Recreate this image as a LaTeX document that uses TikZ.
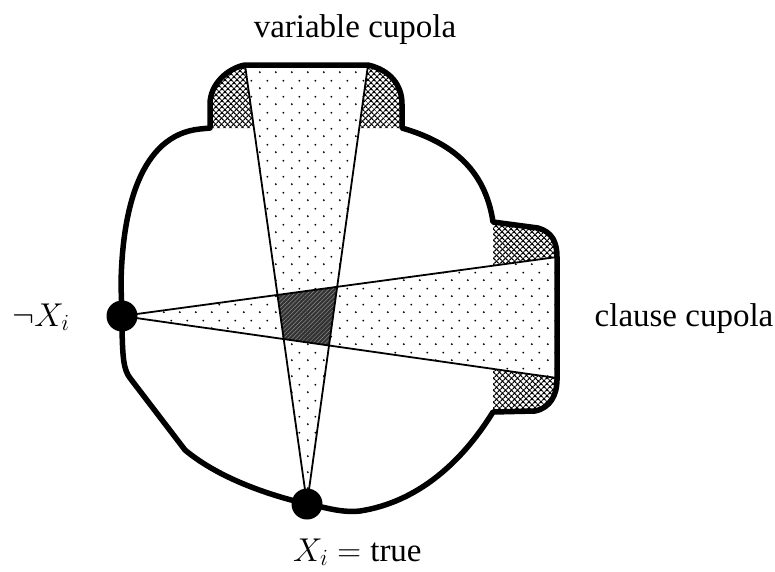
\RequirePackage{fix-cm}
\documentclass[tikz,border=0pt]{standalone}
\usepackage{fontspec}
\setmainfont{Liberation Serif}
\usepackage{tikz}
\usetikzlibrary{patterns,patterns.meta}
\pgfdeclarepatternformonly{sparsedots}{\pgfqpoint{0pt}{0pt}}{\pgfqpoint{16pt}{16pt}}{\pgfqpoint{16pt}{16pt}}{\pgfpathcircle{\pgfqpoint{4pt}{4pt}}{1.1pt}\pgfpathcircle{\pgfqpoint{12pt}{12pt}}{1.1pt}\pgfusepath{fill}}

\begin{document}
\begin{tikzpicture}[x=1pt,y=-1pt,hatch/.style={pattern={Lines[angle=45,distance=4pt,line width=1.3pt]},postaction={pattern={Lines[angle=-45,distance=4pt,line width=1.3pt]}}},speckle/.style={fill=white,postaction={pattern=sparsedots}},overlap/.style={fill=black!80,postaction={pattern={Lines[angle=45,distance=3pt,line width=0.5pt]},pattern color=black!45}},wedge/.style={line width=1.8pt},rim/.style={line width=5.5pt,line join=round},terminal/.style={circle,fill=black,inner sep=0pt,minimum size=31pt},lbl/.style={font=\fontsize{33}{40}\selectfont,inner sep=0pt}]
\useasboundingbox (0,0) rectangle (775,571);
\coordinate (varL) at (245,65); \coordinate (varR) at (368,65);
\coordinate (clsT) at (557,257); \coordinate (clsB) at (557,378);
\coordinate (negX) at (122,316); \coordinate (posX) at (307,504);
\path[hatch] (210,128) -- (210,104) .. controls (210,84) and (228,68) .. (varL) -- (varR) .. controls (390,70) and (402,85) .. (402,104) -- (402,128) -- cycle;
\path[hatch] (493,222) -- (538,228) .. controls (552,232) and (557,242) .. (clsT) -- (557,380) .. controls (557,395) and (550,408) .. (535,411) -- (493,412) -- cycle;
\path[speckle] (negX) -- (clsT) -- (clsB) -- cycle;
\path[speckle] (posX) -- (varL) -- (varR) -- cycle;
\begin{scope}
\clip (posX) -- (varL) -- (varR) -- cycle;
\fill[overlap] (negX) -- (clsT) -- (clsB) -- cycle;
\end{scope}
\draw[wedge] (negX) -- (clsT) (negX) -- (clsB) (posX) -- (varL) (posX) -- (varR);
\draw[rim] (210,128) -- (210,104) .. controls (210,84) and (228,68) .. (varL) -- (varR) .. controls (390,70) and (402,85) .. (402,104) -- (402,128) .. controls (450,142) and (485,168) .. (493,222) -- (538,228) .. controls (552,232) and (557,242) .. (clsT) -- (557,380) .. controls (557,395) and (550,408) .. (535,411) -- (493,412) .. controls (462,462) and (418,502) .. (360,511) .. controls (340,513) and (325,507) .. (posX) .. controls (260,493) and (215,475) .. (185,450) -- (130,378) .. controls (124,370) and (122,360) .. (negX) -- (121,285) .. controls (122,210) and (140,135) .. (200,129) -- cycle;
\node[terminal] (negXdot) at (negX) {};
\node[terminal] (posXdot) at (posX) {};
\node[lbl,anchor=base] (varlabel) at (355,37) {variable cupola};
\node[lbl,anchor=base] (clslabel) at (684,326) {clause cupola};
\node[lbl,anchor=base] (neglabel) at (41,326) {$\neg X_i$};
\node[lbl,anchor=base west] (poslabel) at (293,561) {$X_i = \mbox{true}$};
\end{tikzpicture}
\end{document}
